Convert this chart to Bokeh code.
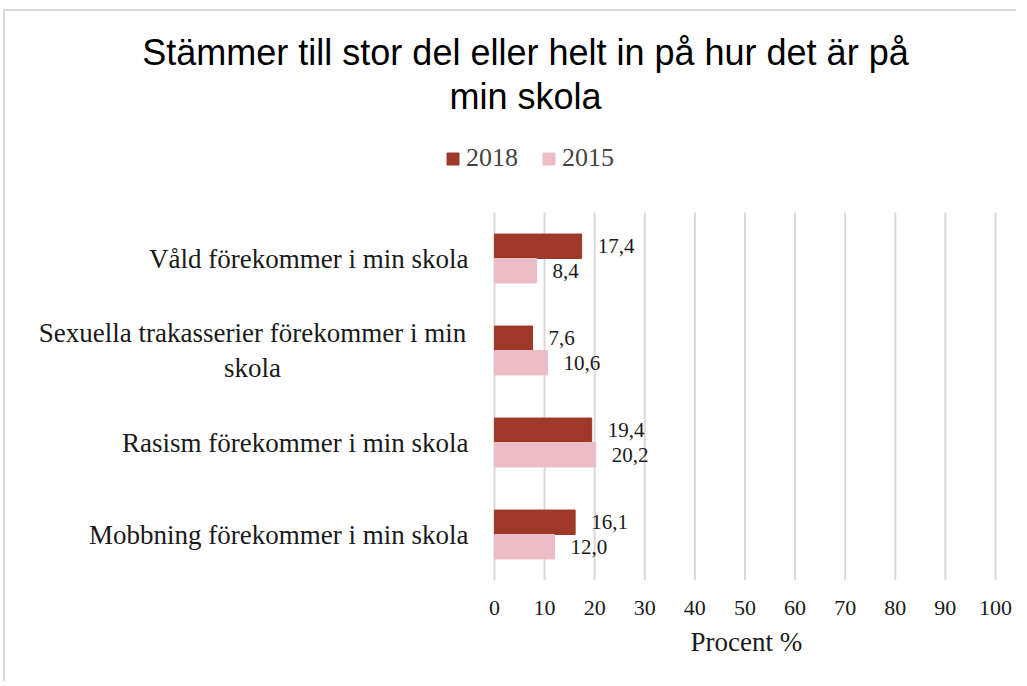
from bokeh.plotting import figure
from bokeh.models import ColumnDataSource, FixedTicker, Label, Legend, LegendItem, Title
from bokeh.core.properties import value
from bokeh.embed import file_html
from bokeh.resources import INLINE

categories = [
    "Våld förekommer i min skola",
    "Sexuella trakasserier förekommer i min\nskola",
    "Rasism förekommer i min skola",
    "Mobbning förekommer i min skola",
]
values_2018 = [17.4, 7.6, 19.4, 16.1]
values_2015 = [8.4, 10.6, 20.2, 12.0]
x_ticks = [0, 10, 20, 30, 40, 50, 60, 70, 80, 90, 100]
x_title = "Procent %"
title_lines = ["Stämmer till stor del eller helt in på hur det är på", "min skola"]

C2018 = "#9E3829"
C2015 = "#EBBDC5"
GRID = "#d9d9d9"
TXT = "#1a1a1a"
SERIF = "Liberation Serif"

n = len(categories)
centers = [n - 0.5 - i for i in range(n)]
bar_h = 0.266
off = bar_h / 2

def fmt(v):
    return f"{v:.1f}".replace(".", ",")

src18 = ColumnDataSource(dict(y=[c + off for c in centers], v=values_2018,
                              lab=[fmt(v) for v in values_2018]))
src15 = ColumnDataSource(dict(y=[c - off for c in centers], v=values_2015,
                              lab=[fmt(v) for v in values_2015]))

p = figure(output_backend="svg", toolbar_location=None,
           x_range=(-97.6, 104.2), y_range=(0, 6.185),
           frame_width=1011, frame_height=569, y_axis_location=None,
           min_border_left=0, min_border_right=0, min_border_top=0, min_border_bottom=101)
p.title = None
p.outline_line_color = None
p.background_fill_color = "white"
p.border_fill_color = "white"
p.xgrid.grid_line_color = None
p.ygrid.grid_line_color = None

# vertical gridlines spanning only the category area
p.segment(x0=x_ticks, y0=[0] * len(x_ticks), x1=x_ticks, y1=[n] * len(x_ticks),
          line_color=GRID, line_width=2)

r18 = p.hbar(y="y", left=0, right="v", height=bar_h, color=C2018, source=src18)
r15 = p.hbar(y="y", left=0, right="v", height=bar_h, color=C2015, source=src15)

for s in (src18, src15):
    p.text(x="v", y="y", text="lab", source=s, x_offset=16, text_baseline="middle",
           text_align="left", text_font=value(SERIF), text_font_size="21px", text_color=TXT)

# category labels (left of the value axis zero)
single = [(c, lab) for c, lab in zip(centers, categories) if "\n" not in lab]
multi = [(c, lab) for c, lab in zip(centers, categories) if "\n" in lab]
p.text(x=[0] * len(single), y=[c for c, _ in single], text=[lab for _, lab in single],
       x_offset=-26, text_align="right", text_baseline="middle",
       text_font=value(SERIF), text_font_size="27px", text_color=TXT)
p.text(x=[0] * len(multi), y=[c for c, _ in multi], text=[lab for _, lab in multi],
       x_offset=-26 - 216, text_align="center", text_baseline="middle",
       text_line_height=1.15,
       text_font=value(SERIF), text_font_size="27px", text_color=TXT)

# x axis
p.xaxis.ticker = FixedTicker(ticks=x_ticks)
p.xaxis.axis_line_color = None
p.xaxis.major_tick_line_color = None
p.xaxis.minor_tick_line_color = None
p.xaxis.major_label_text_font = SERIF
p.xaxis.major_label_text_font_size = "22px"
p.xaxis.major_label_text_color = TXT
p.xaxis.major_label_standoff = 14

# axis title, centred under the 0-100 span
p.add_layout(Title(text=x_title, align="left", offset=685, standoff=14,
                   text_font=SERIF, text_font_size="27px", text_font_style="normal",
                   text_color=TXT), "below")

# chart title
for txt, yy in zip(title_lines, [528, 484]):
    p.add_layout(Label(x=520, y=yy, x_units="screen", y_units="screen", text=txt,
                       text_align="center", text_baseline="middle",
                       text_font="Liberation Sans", text_font_size="36px", text_color="black"))

legend = Legend(items=[LegendItem(label="2018", renderers=[r18]),
                       LegendItem(label="2015", renderers=[r15])],
                orientation="horizontal", location=(440, 407),
                glyph_width=15, glyph_height=15, label_text_font=SERIF,
                label_text_font_size="26px", label_standoff=6, spacing=23,
                border_line_color=None, background_fill_alpha=0, padding=0, margin=0)
p.add_layout(legend, "center")

p.styles = {"border-left": "2px solid #d9d9d9", "border-top": "2px solid #d9d9d9",
            "margin-left": "3px", "margin-top": "9px"}

open("out.html", "w").write(file_html(p, INLINE))
